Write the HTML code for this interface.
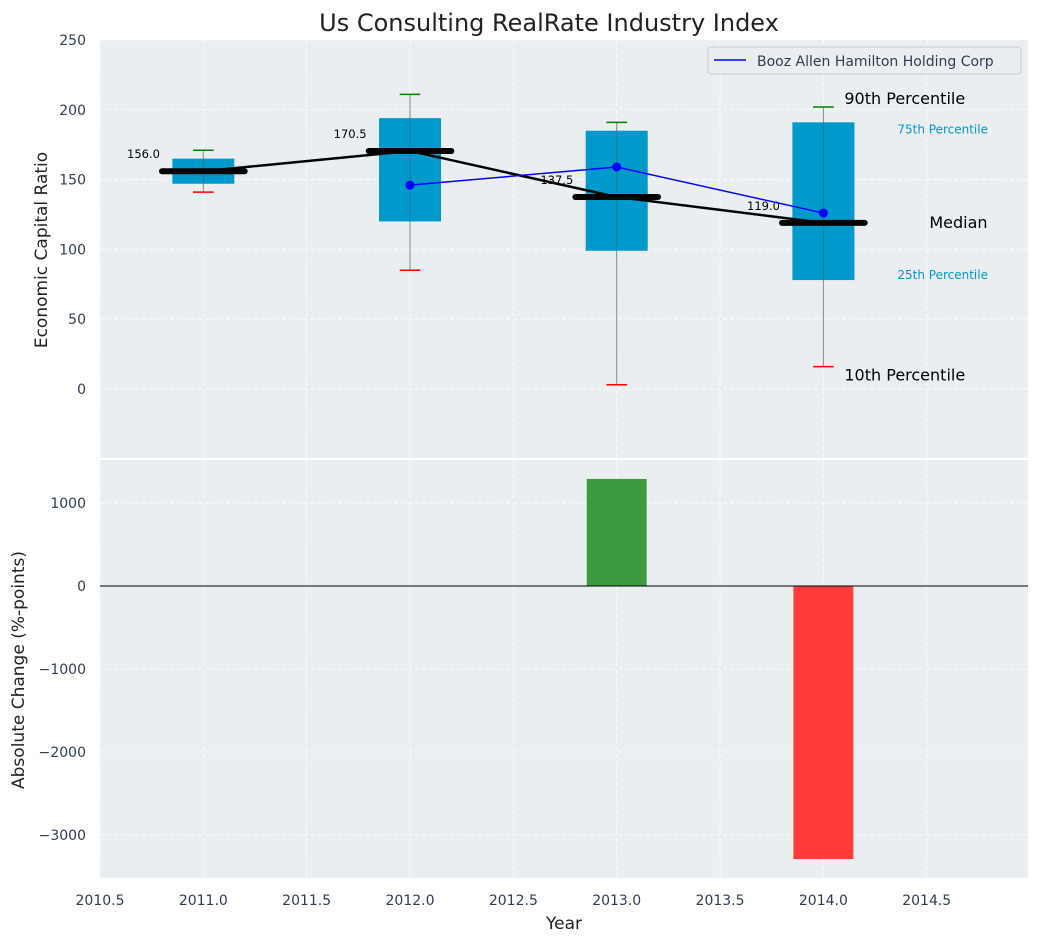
<!DOCTYPE html>
<html><head><meta charset="utf-8"><style>
body{margin:0;background:#fff;font-family:"Liberation Sans","DejaVu Sans",sans-serif}
svg text{font-family:"DejaVu Sans","Liberation Sans",sans-serif}
</style></head><body>
<svg id="c" width="1039" height="942" xmlns="http://www.w3.org/2000/svg"></svg>
<script>
const years=[2011,2012,2013,2014];
const q1=[147,120,99,78];
const q3=[165,194,185,191];
const wLow=[141,85,3,16];
const wHigh=[171,211,191,202];
const medians=[156.0,170.5,137.5,119.0];
const boozYears=[2012,2013,2014];
const boozVals=[146,159,126];
const changeYears=[2013,2014];
const changeVals=[1290,-3290];
const xTicks=[2010.5,2011,2011.5,2012,2012.5,2013,2013.5,2014,2014.5];
const yTopTicks=[0,50,100,150,200,250];
const yBotTicks=[-3000,-2000,-1000,0,1000];

const svg=document.getElementById('c');
const NS='http://www.w3.org/2000/svg';
function el(t,a,p){const e=document.createElementNS(NS,t);for(const k in a)e.setAttribute(k,a[k]);(p||svg).appendChild(e);return e;}
const L=100,R=1028;
const X=v=>L+(v-2010.5)*(R-L)/(2014.99-2010.5);
const T0=40,T1=458,B0=460,B1=878;
const YT=v=>T0+(250-v)*(T1-T0)/(250+49.5);
const YB=v=>B0+(1518-v)*(B1-B0)/(1518+3518);

let e=el('rect',{x:L,y:T0,width:R-L,height:T1-T0,fill:'#eaeef0'});

e=el('rect',{x:L,y:B0,width:R-L,height:B1-B0,fill:'#eaeef0'});

xTicks.forEach(t=>{
 el('line',{x1:X(t),x2:X(t),y1:T0,y2:T1,stroke:'#fff','stroke-dasharray':'4,3','stroke-width':0.8});
 el('line',{x1:X(t),x2:X(t),y1:B0,y2:B1,stroke:'#fff','stroke-dasharray':'4,3','stroke-width':0.8});
 const tx=el('text',{x:X(t),y:905,'text-anchor':'middle','font-size':14,fill:'#2e3e50'});tx.textContent=t.toFixed(1);
 
});
yTopTicks.forEach(t=>{
 el('line',{x1:L,x2:R,y1:YT(t),y2:YT(t),stroke:'#fff','stroke-dasharray':'4,3','stroke-width':0.8});
 const tx=el('text',{x:86,y:YT(t)+5,'text-anchor':'end','font-size':14,fill:'#2e3e50'});tx.textContent=t;
 
});
yBotTicks.forEach(t=>{
 el('line',{x1:L,x2:R,y1:YB(t),y2:YB(t),stroke:'#fff','stroke-dasharray':'4,3','stroke-width':0.8});
 const tx=el('text',{x:86,y:YB(t)+5,'text-anchor':'end','font-size':14,fill:'#2e3e50'});tx.textContent=(t<0?'\u2212'+(-t):t);
 
});
const bw=0.3;
years.forEach((y,i)=>{
 const g=el('g',{});
 
 el('line',{x1:X(y),x2:X(y),y1:YT(wLow[i]),y2:YT(wHigh[i]),stroke:'#888','stroke-width':1},g);
 el('rect',{x:X(y-bw/2),y:YT(q3[i]),width:X(y+bw/2)-X(y-bw/2),height:YT(q1[i])-YT(q3[i]),fill:'#0099cc'},g);
 el('line',{x1:X(y),x2:X(y),y1:YT(q3[i]),y2:YT(q1[i]),stroke:'#555','stroke-width':0.8,opacity:0.6},g);
 el('line',{x1:X(y-0.05),x2:X(y+0.05),y1:YT(wHigh[i]),y2:YT(wHigh[i]),stroke:'green','stroke-width':1.5},g);
 el('line',{x1:X(y-0.05),x2:X(y+0.05),y1:YT(wLow[i]),y2:YT(wLow[i]),stroke:'red','stroke-width':1.5},g);
});
let pts=years.map((y,i)=>X(y)+','+YT(medians[i])).join(' ');
e=el('polyline',{points:pts,fill:'none',stroke:'#000','stroke-width':2.5});

years.forEach((y,i)=>{
 const m=el('line',{x1:X(y-0.2),x2:X(y+0.2),y1:YT(medians[i]),y2:YT(medians[i]),stroke:'#000','stroke-width':6,'stroke-linecap':'round'});
 
 const t=el('text',{x:X(y-0.21),y:YT(medians[i])-13,'text-anchor':'end','font-size':11.5,fill:'#000'});t.textContent=medians[i].toFixed(1);
 
});
pts=boozYears.map((y,i)=>X(y)+','+YT(boozVals[i])).join(' ');
e=el('polyline',{points:pts,fill:'none',stroke:'blue','stroke-width':1.5});

boozYears.forEach((y,i)=>{const c=el('circle',{cx:X(y),cy:YT(boozVals[i]),r:4.5,fill:'blue'});
 });
const last=years.length-1,ly=years[last];
function ann(txt,x,y,size,color,name){const t=el('text',{x:x,y:y,'font-size':size,fill:color});t.textContent=txt;}
ann('90th Percentile',X(ly)+21,YT(wHigh[last])-3,16,'#000','p90-annotation');
ann('75th Percentile',X(ly)+74,YT(q3[last])+11,12,'#0099cc','p75-annotation');
ann('Median',X(ly)+106,YT(medians[last])+5,16,'#000','median-annotation');
ann('25th Percentile',X(ly)+74,YT(q1[last])-1,12,'#0099cc','p25-annotation');
ann('10th Percentile',X(ly)+21,YT(wLow[last])+14,16,'#000','p10-annotation');
changeYears.forEach((y,i)=>{const v=changeVals[i];
 const r=el('rect',{x:X(y-0.145),width:X(y+0.145)-X(y-0.145),y:Math.min(YB(v),YB(0)),height:Math.abs(YB(v)-YB(0)),fill:v>=0?'#3a9c3e':'#ff3b3b'});
 });
e=el('line',{x1:L,x2:R,y1:YB(0),y2:YB(0),stroke:'#000','stroke-width':1});

const lg=el('g',{});
el('rect',{x:708,y:47,width:313,height:27,rx:3,fill:'#eaeef0',stroke:'#ccc'},lg);
el('line',{x1:714,x2:746,y1:60,y2:60,stroke:'blue','stroke-width':1.5},lg);
const lt=el('text',{x:757,y:66,'font-size':14,fill:'#2e3e50'},lg);lt.textContent='Booz Allen Hamilton Holding Corp';
ann('Us Consulting RealRate Industry Index',549,31,24,'#222','chart-title');
svg.lastChild.setAttribute('text-anchor','middle');
ann('Year',564,929,17,'#222','x-axis-title');svg.lastChild.setAttribute('text-anchor','middle');
let t=el('text',{x:0,y:0,'font-size':17,fill:'#222','text-anchor':'middle',transform:'translate(47,250) rotate(-90)'});t.textContent='Economic Capital Ratio';

t=el('text',{x:0,y:0,'font-size':17,fill:'#222','text-anchor':'middle',transform:'translate(24,670) rotate(-90)'});t.textContent='Absolute Change (%-points)';

</script>
</body></html>
